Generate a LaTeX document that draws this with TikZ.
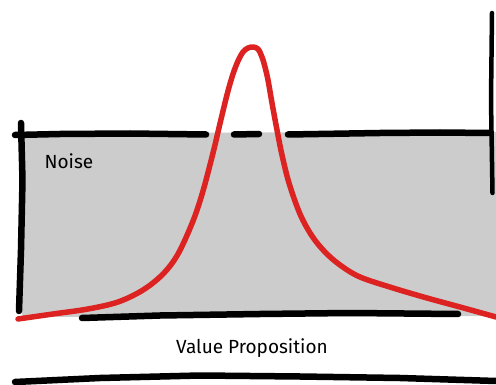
\documentclass[tikz,border=0pt]{standalone}
\usepackage{fontspec}
\setmainfont{Fira Sans}
\definecolor{noisegray}{HTML}{CCCCCC}
\definecolor{curvered}{HTML}{DD2222}
\begin{document}
\begin{tikzpicture}[x=1pt,y=-1pt,
  ink/.style={line width=6.5pt,line cap=round,line join=round,black},
  curve/.style={line width=5.5pt,line cap=round,line join=round,curvered},
  lbl/.style={font=\fontsize{19}{21}\selectfont,anchor=center,inner sep=0pt}]
\useasboundingbox (0,0) rectangle (496,385);
% gray band
\fill[noisegray] (22,133) -- (496,132) -- (496,316) -- (22,317) -- cycle;
% frame lines
\draw[ink] (15,135) -- (60,134) -- (130,133.5) -- (206,134.5);
\draw[ink] (234,134.5) -- (259,134);
\draw[ink] (288,134.5) -- (380,133) -- (440,132.5) -- (490,133);
\draw[ink] (21,123) -- (22.5,180) -- (21,250) -- (19,311);
\draw[ink,line width=4.5pt] (492,13) -- (491,100) -- (492.5,193);
\draw[ink] (82,318) -- (160,315.5) -- (260,314) -- (350,313) -- (458,314);
\draw[ink] (15,382) -- (100,378) -- (200,375.5) -- (300,376.5) -- (400,378) -- (496,381);
% red peak
\draw[curve] plot[smooth,tension=0.55] coordinates {
  (18,319) (53,314) (88,309) (118,302) (143,290) (163,274) (178,254)
  (193,221) (203,191) (213,153) (218,132) (223,111) (228,91) (233,74)
  (238,61) (243,52) (248,48) (253,47)
  (258,49) (262,57) (265,67) (268,80) (272,103) (277,130) (282,155)
  (289,183) (300,214) (312,236) (325,252) (340,265) (360,277)
  (393,288) (427,298) (460,307) (496,317)};
% labels
\node[lbl] (noise) at (69,161) {Noise};
\node[lbl] (vp) at (252,348) {Value Proposition};
\end{tikzpicture}
\end{document}
